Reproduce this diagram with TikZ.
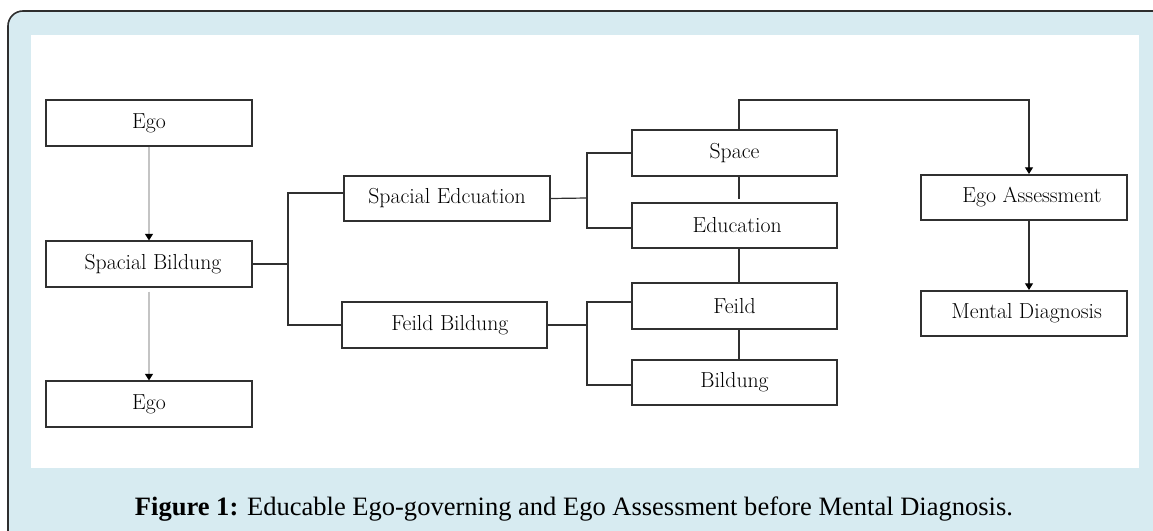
\documentclass[tikz,border=0pt]{standalone}
\usepackage{fontspec}
\newfontfamily\capfont{Liberation Serif}
\usetikzlibrary{arrows.meta,calc}
\definecolor{framebg}{HTML}{D7EBF1}
\definecolor{frameline}{HTML}{2E2E2E}
\definecolor{boxline}{HTML}{303030}
\definecolor{lightline}{HTML}{C4C4C4}
\begin{document}
\begin{tikzpicture}[x=0.75pt,y=-0.75pt,
  box/.style={draw=boxline,line width=1.3pt,fill=white,minimum width=154.5pt,minimum height=34pt,inner sep=0pt,font=\fontsize{16.3}{19}\selectfont},
  link/.style={draw=boxline,line width=0.9pt},
  faint/.style={draw=lightline,line width=0.9pt},
  tip/.style={-{Triangle[length=5pt,width=6pt,color=black,fill=black]}}]
\useasboundingbox (0,0) rectangle (1153,531);
% frame
\fill[framebg] (8,531) -- (8,26) arc[start angle=180,end angle=270,radius=15] -- (1153,11) -- (1153,531) -- cycle;
\draw[frameline,line width=1.2pt] (8,531) -- (8,26) arc[start angle=180,end angle=270,radius=15] -- (1153,11);
\fill[white] (31,35) rectangle (1139,468);
% nodes
\node[box] (ego1) at (149,123) {Ego};
\node[box] (sb) at (149,264) {\hspace*{6pt}Spacial Bildung};
\node[box] (ego2) at (149,404) {Ego};
\node[box] (se) at (447,198.5) {Spacial Edcuation};
\node[box,minimum width=153.75pt] (fb) at (444.5,325) {\hspace*{8pt}Feild Bildung};
\node[box,minimum width=153.75pt] (space) at (734.5,153) {Space};
\node[box,minimum width=153.75pt] (edu) at (734.5,225.5) {\hspace*{4pt}Education};
\node[box,minimum width=153.75pt] (feild) at (734.5,306) {Feild};
\node[box,minimum width=153.75pt] (bild) at (734.5,382.5) {Bildung};
\node[box] (ea) at (1024,197.5) {\hspace*{12pt}Ego Assessment};
\node[box] (md) at (1024,313.5) {\hspace*{4pt}Mental Diagnosis};
% left vertical flow
\draw[faint,tip] (ego1.south) -- (sb.north);
\draw[faint,tip] ($(sb.south)+(0,4)$) -- (ego2.north);
% branch from Spacial Bildung
\draw[link] (sb.east) -- (288,264) coordinate (j1);
\draw[link] (j1) |- ($(se.west)+(0,-5.5)$);
\draw[link] (j1) |- (fb.west);
% branch from Spacial Edcuation
\draw[link] (se.east) -- (587,198) coordinate (j2);
\draw[link] (j2) |- (space.west);
\draw[link] (j2) |- ($(edu.west)+(0,2.5)$);
% branch from Feild Bildung
\draw[link] (fb.east) -- (587,325) coordinate (j3);
\draw[link] (j3) |- ($(feild.west)+(0,-4)$);
\draw[link] (j3) |- ($(bild.west)+(0,2.5)$);
% chain of right column
\draw[link] ($(space.south)+(4.5,0)$) -- ($(edu.north)+(4.5,-3)$);
\draw[link] ($(edu.south)+(4.5,0)$) -- ($(feild.north)+(4.5,0)$);
\draw[link] ($(feild.south)+(4.5,0)$) -- ($(bild.north)+(4.5,0)$);
% top connector to Ego Assessment
\coordinate (t1) at (739,100);
\coordinate (t2) at (1029,100);
\draw[link,tip] ($(space.north)+(4.5,0)$) -- (t1) -- (t2) -- ($(ea.north)+(5,0)$);
\draw[link,tip] ($(ea.south)+(5,0)$) -- ($(md.north)+(5,0)$);
% caption
\node[anchor=base,inner sep=0pt] (cap) at (574,515) {\resizebox{658.5pt}{!}{\capfont\fontsize{19}{22}\selectfont\textbf{Figure 1:} Educable Ego-governing and Ego Assessment before Mental Diagnosis.}};
\end{tikzpicture}
\end{document}
